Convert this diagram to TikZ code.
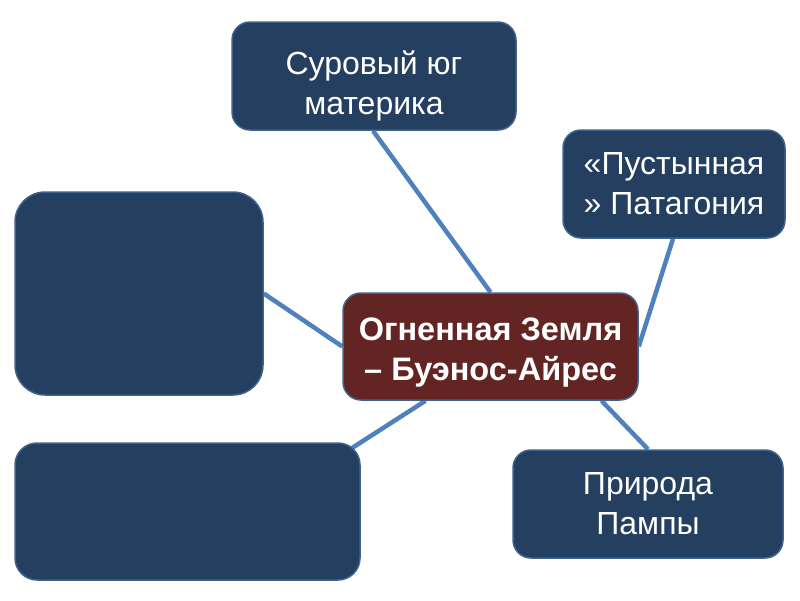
\documentclass[tikz,border=0pt]{standalone}
\usepackage{fontspec}
\setmainfont{Liberation Sans}
\usetikzlibrary{backgrounds}
\definecolor{boxblue}{HTML}{243F60}
\definecolor{boxedge}{HTML}{3E638F}
\definecolor{boxred}{HTML}{632523}
\definecolor{linkblue}{HTML}{4F81BD}
\tikzset{
  topic/.style={draw=boxedge, line width=1.5pt, fill=boxblue, rounded corners=18pt,
    text=white, align=center, inner sep=0pt, font=\fontsize{32}{40}\selectfont},
  hub/.style={topic, fill=boxred, font=\bfseries\fontsize{32.5}{40}\selectfont},
  link/.style={draw=linkblue, line width=4.5pt}
}
\begin{document}
\begin{tikzpicture}[x=1pt, y=-1pt]
\useasboundingbox (0,0) rectangle (800,600);
\node[topic, minimum width=284pt, minimum height=108pt] (top) at (374,76) {\rule{0pt}{43pt}Суровый юг\\материка};
\node[topic, minimum width=222pt, minimum height=108pt] (pust) at (674,184) {«Пустынная\\» Патагония};
\node[hub, minimum width=295pt, minimum height=107pt] (mid) at (490.5,346.5) {\rule{0pt}{35pt}Огненная Земля\\– Буэнос-Айрес};
\node[topic, minimum width=270pt, minimum height=108pt] (pampa) at (648,504) {Природа\\Пампы};
\node[topic, rounded corners=30pt, minimum width=248pt, minimum height=203pt] (ltop) at (139,293.5) {};
\node[topic, rounded corners=22pt, minimum width=345pt, minimum height=137pt] (lbot) at (187.5,511.5) {};
\begin{scope}[on background layer]
\draw[link] ([xshift=-1pt]top.south) -- (mid.north);
\draw[link] ([xshift=-1pt]pust.south) -- (mid.east);
\draw[link] (ltop.east) -- (mid.west);
\draw[link] ([xshift=-65pt]mid.south) -- ([xshift=-20pt,yshift=-13pt]lbot.north east);
\draw[link] ([xshift=111pt]mid.south) -- (pampa.north);
\end{scope}
\end{tikzpicture}
\end{document}
